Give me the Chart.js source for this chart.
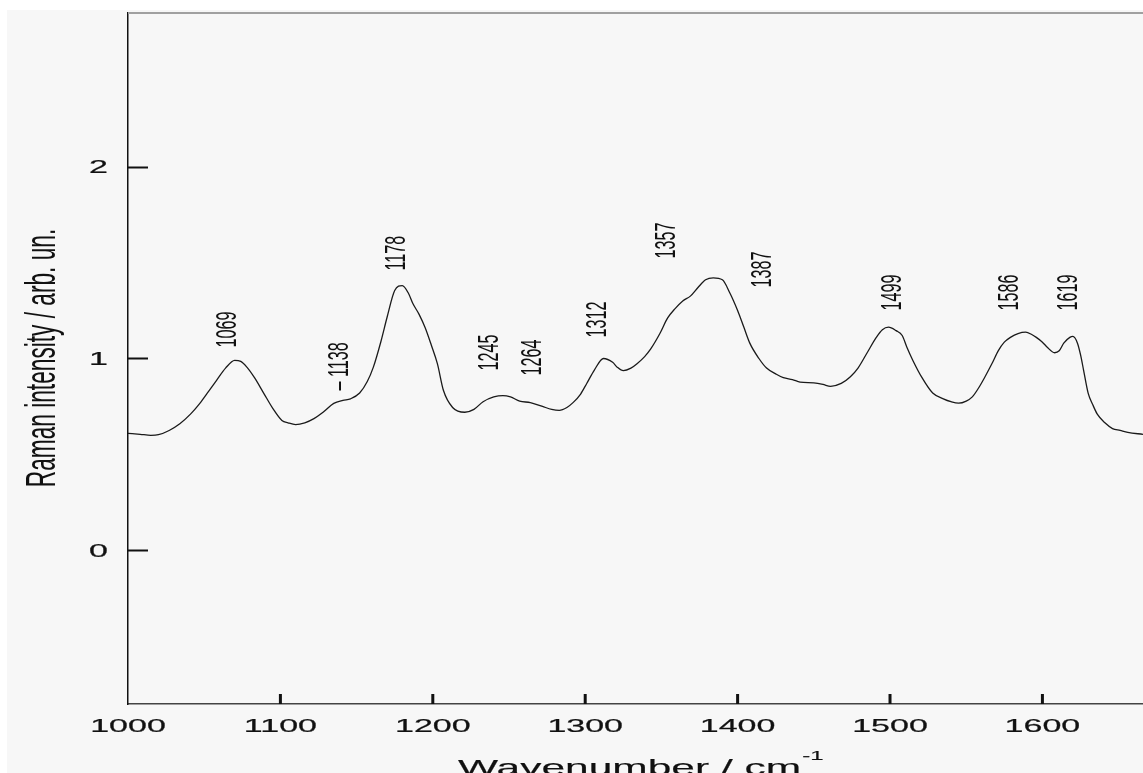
<!DOCTYPE html>
<html>
<head>
<meta charset="utf-8">
<script src="https://cdn.jsdelivr.net/npm/chart.js@4.4.1/dist/chart.umd.min.js"></script>
<style>
  html, body { margin: 0; padding: 0; background: #fff; }
  #wrap { width: 1143px; height: 773px; }
</style>
</head>
<body>
<div id="wrap"><canvas id="raman"></canvas></div>
<script>
'use strict';

// spectrum
const wavenumber = [
  1000, 1008, 1015, 1020, 1027, 1034, 1041, 1047, 1053, 1058, 1064, 1070, 1074, 1078, 1083, 1089,
  1095, 1101, 1105, 1110, 1116, 1122, 1128, 1135, 1141, 1146, 1152, 1157, 1161, 1166, 1170, 1175,
  1180, 1184, 1187, 1191, 1195, 1199, 1203, 1207, 1213, 1221, 1227, 1233, 1240, 1246, 1251, 1257,
  1264, 1272, 1278, 1283, 1288, 1292, 1297, 1301, 1306, 1312, 1318, 1321, 1325, 1330, 1334, 1339,
  1343, 1349, 1354, 1359, 1364, 1369, 1374, 1379, 1384, 1390, 1395, 1400, 1404, 1408, 1414, 1419,
  1425, 1430, 1436, 1441, 1450, 1456, 1461, 1468, 1474, 1479, 1485, 1491, 1495, 1499, 1504, 1508,
  1511, 1515, 1521, 1528, 1535, 1540, 1545, 1550, 1554, 1558, 1562, 1567, 1571, 1575, 1579, 1584,
  1589, 1593, 1596, 1600, 1603, 1608, 1611, 1614, 1618, 1620, 1623, 1625, 1627, 1630, 1633, 1636,
  1641, 1646, 1651, 1656, 1666
];
const intensity = [
  0.61, 0.605, 0.60, 0.603, 0.625, 0.66, 0.71, 0.765, 0.83, 0.885, 0.95, 0.99, 0.985, 0.955, 0.90, 0.82,
  0.74, 0.677, 0.665, 0.656, 0.665, 0.687, 0.72, 0.766, 0.782, 0.79, 0.82, 0.88, 0.955, 1.09, 1.215, 1.354,
  1.38, 1.34, 1.285, 1.23, 1.16, 1.07, 0.973, 0.833, 0.745, 0.72, 0.735, 0.775, 0.80, 0.807, 0.80, 0.778,
  0.77, 0.75, 0.735, 0.73, 0.745, 0.77, 0.815, 0.87, 0.94, 1.0, 0.98, 0.955, 0.937, 0.95, 0.973, 1.01,
  1.05, 1.13, 1.21, 1.26, 1.30, 1.325, 1.37, 1.41, 1.42, 1.41, 1.34, 1.25, 1.165, 1.08, 1.00, 0.95,
  0.92, 0.90, 0.89, 0.877, 0.873, 0.865, 0.855, 0.87, 0.905, 0.95, 1.03, 1.11, 1.15, 1.163, 1.145, 1.12,
  1.06, 0.99, 0.90, 0.82, 0.79, 0.775, 0.767, 0.778, 0.80, 0.845, 0.90, 0.975, 1.04, 1.085, 1.11, 1.13,
  1.137, 1.125, 1.11, 1.085, 1.06, 1.03, 1.04, 1.08, 1.11, 1.115, 1.08, 1.02, 0.94, 0.82, 0.76, 0.71,
  0.665, 0.635, 0.625, 0.615, 0.605
];

// peak labels: text, where it sits (x), where its foot is (y)
const peakText = ['1069', '\u2013 1138', '1178', '1245', '1264', '1312', '1357', '1387', '1499', '1586', '1619'];
const peakX = [1065.6, 1139, 1176.5, 1237.5, 1265.7, 1308.4, 1353.7, 1416.7, 1502, 1578.7, 1617.5];
const peakY = [1.057, 0.833, 1.458, 0.9375, 0.911, 1.109, 1.521, 1.37, 1.25, 1.25, 1.25];

const xTicks = [1000, 1100, 1200, 1300, 1400, 1500, 1600];
const yTicks = [0, 1, 2];

const FONT = '"Liberation Sans", Arial, sans-serif';
const SQUASH = 0.54;

// text in the picture is squashed vertically, so draw it by hand
function squashedText(ctx, text, x, y, size, rotated, align, baseline, heavy) {
  ctx.save();
  ctx.translate(x, y);
  if (rotated) {
    ctx.rotate(-Math.PI / 2);
    ctx.scale(SQUASH, 1);
  } else {
    ctx.scale(1, SQUASH);
  }
  ctx.font = size + 'px ' + FONT;
  ctx.textAlign = align;
  ctx.textBaseline = baseline;
  ctx.fillStyle = '#111';
  ctx.fillText(text, 0, 0);
  if (heavy) {
    ctx.strokeStyle = '#111';
    ctx.lineWidth = heavy;
    ctx.strokeText(text, 0, 0);
  }
  const w = ctx.measureText(text).width;
  ctx.restore();
  return w;
}

const decor = {
  id: 'decor',
  beforeDraw(chart) {
    const ctx = chart.ctx;
    ctx.save();
    ctx.fillStyle = '#f7f7f7';
    ctx.fillRect(7, 10, chart.width - 7, chart.height - 10);
    ctx.restore();
  },
  afterDraw(chart) {
    const ctx = chart.ctx;
    const { left, right, top, bottom } = chart.chartArea;
    const xs = chart.scales.x, ys = chart.scales.y;

    ctx.save();
    // top frame line
    ctx.strokeStyle = '#a0a0a0';
    ctx.lineWidth = 2;
    ctx.beginPath();
    ctx.moveTo(left, top);
    ctx.lineTo(right, top);
    ctx.stroke();

    // inward ticks
    ctx.strokeStyle = '#111';
    ctx.lineWidth = 2;
    yTicks.forEach(v => {
      const py = Math.round(ys.getPixelForValue(v)) + 0.5;
      ctx.beginPath();
      ctx.moveTo(left, py);
      ctx.lineTo(left + 20, py);
      ctx.stroke();
    });
    ctx.lineWidth = 3;
    xTicks.forEach(v => {
      if (v === xs.min) return;
      const px = xs.getPixelForValue(v);
      ctx.beginPath();
      ctx.moveTo(px, bottom);
      ctx.lineTo(px, bottom - 10);
      ctx.stroke();
    });
    ctx.restore();

    // tick labels
    xTicks.forEach(v => squashedText(ctx, String(v), xs.getPixelForValue(v), bottom + 28, 34, false, 'center', 'alphabetic', 0.4));
    yTicks.forEach(v => squashedText(ctx, String(v), 108, ys.getPixelForValue(v) + 1, 34, false, 'right', 'middle', 0.4));

    // axis titles
    const tw = squashedText(ctx, 'Wavenumber / cm', 458, 775, 42.5, false, 'left', 'alphabetic', 0.3);
    squashedText(ctx, '-1', 458 + tw + 1, 760, 24, false, 'left', 'alphabetic', 0.3);
    squashedText(ctx, 'Raman intensity / arb. un.', 55, 358, 42, true, 'center', 'alphabetic');

    // peak labels
    peakText.forEach((t, i) => {
      squashedText(ctx, t, xs.getPixelForValue(peakX[i]), ys.getPixelForValue(peakY[i]), 30, true, 'left', 'middle');
    });
  }
};

new Chart('raman', {
  type: 'line',
  data: {
    datasets: [{
      data: wavenumber.map((w, i) => ({ x: w, y: intensity[i] })),
      borderColor: '#1a1a1a',
      borderWidth: 1.3,
      pointRadius: 0,
      cubicInterpolationMode: 'monotone',
      fill: false
    }]
  },
  options: {
    responsive: true,
    maintainAspectRatio: false,
    animation: false,
    layout: { padding: { left: 0, top: 13, right: 0, bottom: 0 } },
    plugins: { legend: { display: false }, tooltip: { enabled: false } },
    scales: {
      x: {
        type: 'linear',
        min: 1000,
        max: 1666,
        grid: { display: false },
        border: { display: true, color: '#444', width: 1.5 },
        ticks: { display: false },
        afterFit(s) { s.height = 69; }
      },
      y: {
        min: -0.8,
        max: 2.8,
        grid: { display: false },
        border: { display: true, color: '#111', width: 1.5 },
        ticks: { display: false },
        afterFit(s) { s.width = 128; }
      }
    }
  },
  plugins: [decor]
});
</script>
</body>
</html>
